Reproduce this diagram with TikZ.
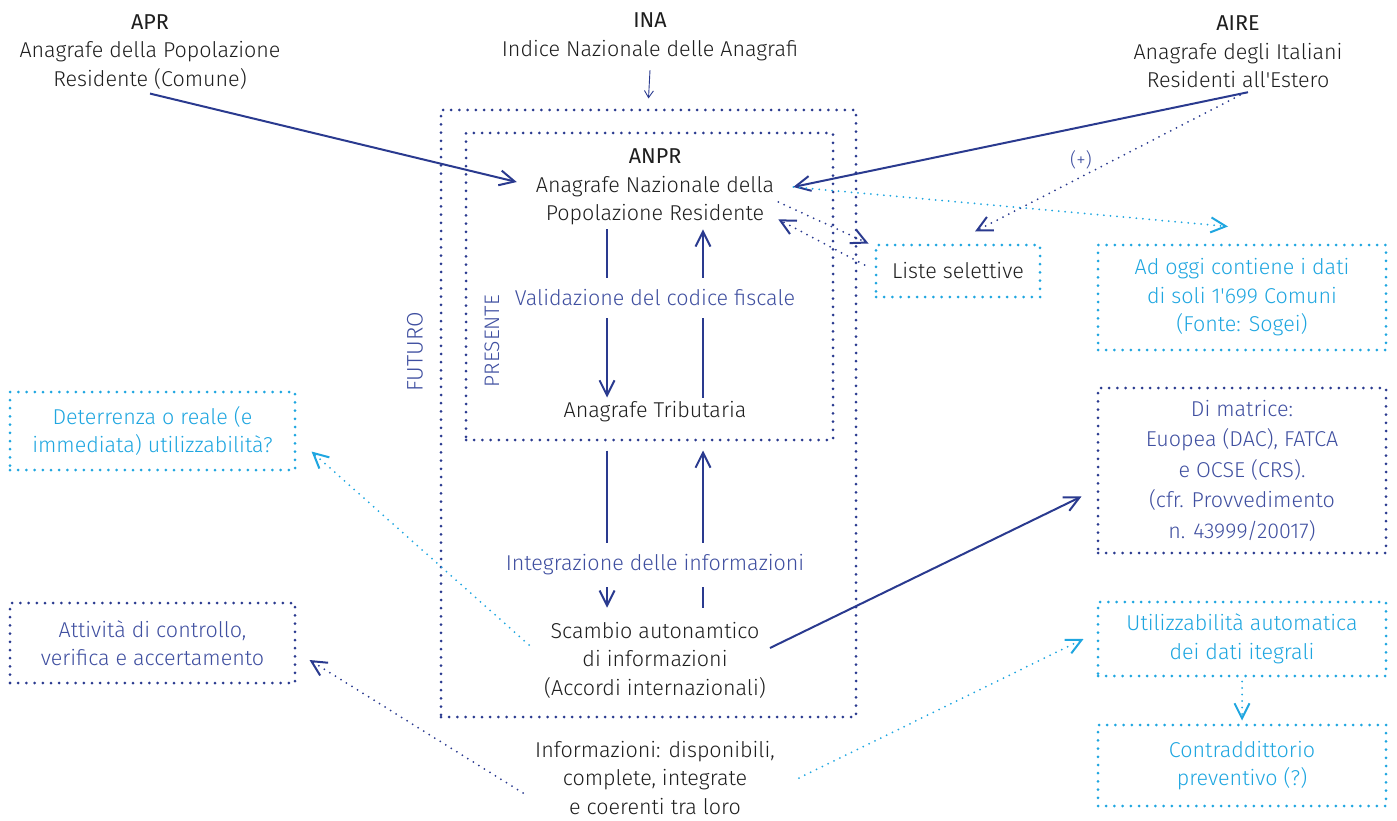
\documentclass[tikz,border=0pt]{standalone}
\usepackage{fontspec}
\setmainfont{Fira Sans}[UprightFont=* Light, ItalicFont=* Light Italic, BoldFont=*]
\usetikzlibrary{arrows.meta}
\definecolor{navy}{HTML}{2A3A8F}
\definecolor{navytxt}{HTML}{3F4FA0}
\definecolor{sky}{HTML}{1FA6E0}
\definecolor{ink}{HTML}{1E1E1E}

\begin{document}
\begin{tikzpicture}[x=1pt, y=-1pt, >={Straight Barb[length=15pt,width=15pt]},
  every node/.style={align=center, font=\fontsize{21.5}{28.5}\selectfont, text=ink, inner sep=4pt},
  sbox/.style={draw, line width=3pt, dash pattern=on 0pt off 8.2pt, line cap=round, minimum width=288pt, inner sep=0pt},
  navybox/.style={sbox, draw=navy, text=navytxt},
  skybox/.style={sbox, draw=sky, text=sky},
  link/.style={->, navy, line width=2pt},
  dotlink/.style={->, line width=2pt, dash pattern=on 0pt off 6.5pt, line cap=round}]
	\useasboundingbox (0,0) rectangle (1397,821);

	% sorgenti
	\node (APR) at (150,52) {\bfseries APR\\Anagrafe della Popolazione\\Residente (Comune)};
	\node (INA) at (650,37) {\bfseries INA\\Indice Nazionale delle Anagrafi};
	\node (AIRE) at (1238,52) {\bfseries AIRE\\Anagrafe degli Italiani\\Residenti all\textquotesingle Estero};

	% contenitori
	\node[navybox, minimum width=415pt, minimum height=607pt] (FUT) at (648.5,413.5) {};
	\node[navybox, minimum width=367pt, minimum height=307pt] (PRE) at (649.5,286.5) {};
	\node[rotate=90, text=navytxt, font=\fontsize{22.5}{24}\selectfont] (FUTL) at (415,352) {FUTURO};
	\node[rotate=90, text=navytxt, font=\fontsize{21}{24}\selectfont] (PREL) at (492,341) {PRESENTE};

	% centro
	\node (ANPR) at (655,187) {\bfseries ANPR\\Anagrafe Nazionale della\\Popolazione Residente};
	\node (AT) at (655,412) {Anagrafe Tributaria};
	\node (SAI) at (655,660) {Scambio autonamtico\\di informazioni\\(Accordi internazionali)};
	\node (INF) at (655,778) {Informazioni: disponibili,\\complete, integrate\\e coerenti tra loro};

	% riquadri
	\node[skybox, minimum width=164pt, minimum height=52pt, text=ink] (LS) at (958,271) {Liste selettive};
	\node[skybox, minimum height=105pt] (AO) at (1242,297.5) {Ad oggi contiene i dati\\di soli 1\textquotesingle 699 Comuni\\(Fonte: Sogei)};
	\node[navybox, minimum height=165pt, font=\fontsize{21.5}{30.5}\selectfont] (DM) at (1242,470.5) {Di matrice:\\Euopea (DAC), FATCA\\e OCSE (CRS).\\(cfr. Provvedimento\\n. 43999/20017)};
	\node[skybox, minimum height=74pt] (UA) at (1242,639) {Utilizzabilità automatica\\dei dati itegrali};
	\node[skybox, minimum height=81pt] (CP) at (1242,765.5) {Contraddittorio\\preventivo (?)};
	\node[skybox, minimum width=285pt, minimum height=78pt] (DR) at (152.5,431) {Deterrenza o reale (e\\immediata) utilizzabilità?};
	\node[navybox, minimum width=285pt, minimum height=80pt] (AC) at (152.5,643) {Attività di controllo,\\verifica e accertamento};

	% collegamenti
	\draw[link] (APR.south) -- ([xshift=-15pt,yshift=5pt]ANPR.west);
	\draw[link] ([xshift=10pt]AIRE.south) -- ([xshift=15pt]ANPR.east);
	\draw[dotlink, navy] ([xshift=2pt,yshift=-3pt]AIRE.south) -- node[pos=0.6, above=3pt, text=navytxt, font=\fontsize{19}{20}\selectfont] {(+)} ([xshift=17pt,yshift=12pt]LS.north);
	\draw[dotlink, sky] ([xshift=15pt]ANPR.east) -- ([xshift=-14pt,yshift=17pt]AO.north);
	\draw[dotlink, navy] ([yshift=-15pt]ANPR.east) -- ([xshift=-6pt]LS.north west);
	\draw[dotlink, navy] ([xshift=-10pt,yshift=6pt]LS.west) -- ([yshift=10pt]ANPR.south east);
	\draw[->, navy, line width=0.9pt, >={Straight Barb[length=7pt,width=9pt]}] ([yshift=-5pt]INA.south) -- ([yshift=10pt]FUT.north);

	\draw[link] ([xshift=-48pt]ANPR.south) -- ([xshift=-48pt]AT.north);
	\draw[link] ([xshift=48pt]AT.north) -- ([xshift=48pt]ANPR.south);
	\draw[link, shorten <=24pt] ([xshift=-48pt]AT.south) -- ([xshift=-48pt,yshift=10pt]SAI.north);
	\draw[link, shorten >=24pt] ([xshift=48pt,yshift=10pt]SAI.north) -- ([xshift=48pt]AT.south);
	\node[fill=white, text=navytxt, inner ysep=12pt] (VCF) at (655,298) {Validazione del codice fiscale};
	\node[fill=white, text=navytxt, inner ysep=12pt] (IDI) at (655,565) {Integrazione delle informazioni};

	\draw[link] ([yshift=12pt]SAI.east) -- ([xshift=-15pt,yshift=-26pt]DM.west);
	\draw[dotlink, sky] ([xshift=-11pt,yshift=15pt]SAI.west) -- ([xshift=15pt,yshift=20pt]DR.south east);
	\draw[dotlink, navy] ([xshift=-8pt,yshift=-15pt]INF.west) -- ([xshift=13pt,yshift=-17pt]AC.east);
	\draw[dotlink, sky] ([xshift=20pt]INF.east) -- ([xshift=-13pt]UA.west);
	\draw[dotlink, sky] ([yshift=-4pt]UA.south) -- ([yshift=3pt]CP.north);
\end{tikzpicture}
\end{document}
